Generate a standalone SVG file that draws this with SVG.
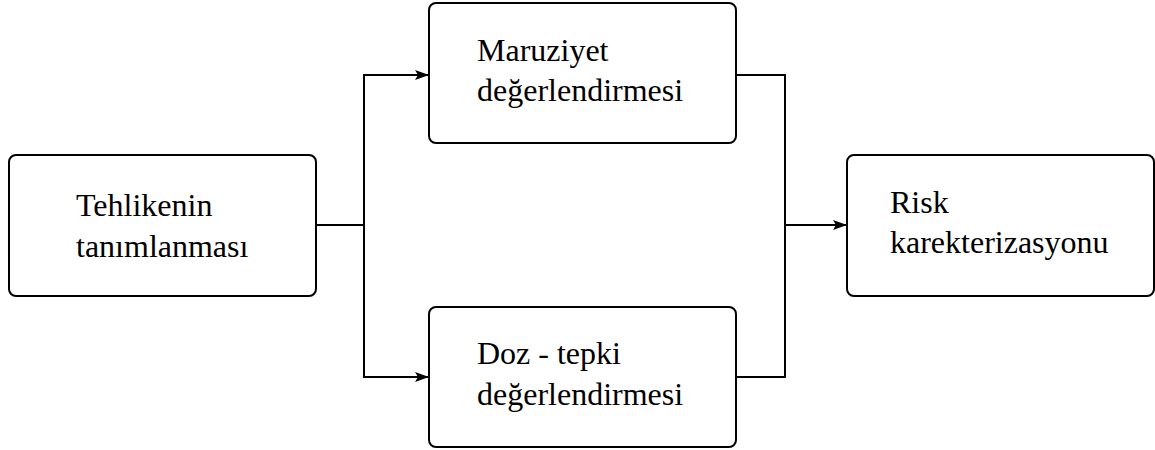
<svg xmlns="http://www.w3.org/2000/svg" width="1155" height="450" viewBox="0 0 1155 450">
<style>
.box{fill:#fff;stroke:#000;stroke-width:2}
.t{font-family:"Liberation Serif","Times New Roman",serif;font-size:32px;fill:#000}
.c{fill:none;stroke:#000;stroke-width:2}
</style>
<defs>
<marker id="ah" markerWidth="14" markerHeight="10" refX="13" refY="5" orient="auto" markerUnits="userSpaceOnUse">
<path d="M0,0 L14,5 L0,10 L3,5 Z" fill="#000"/>
</marker>
</defs>
<rect width="1155" height="450" fill="#fff"/>
<g id="connectors">
<path class="c" d="M316,225 H364"/>
<path class="c" d="M364,377 V75 H428" marker-end="url(#ah)"/>
<path class="c" d="M364,225 V377 H428" marker-end="url(#ah)"/>
<path class="c" d="M736,75 H785 V377 H736"/>
<path class="c" d="M785,225 H846" marker-end="url(#ah)"/>
</g>
<g id="node-tehlike">
<rect class="box" x="9" y="155" width="307" height="141" rx="7"/>
<text class="t" x="76" y="216">Tehlikenin</text>
<text class="t" x="76" y="257">tanımlanması</text>
</g>
<g id="node-maruziyet">
<rect class="box" x="429" y="3" width="307" height="140" rx="7"/>
<text class="t" x="477" y="61">Maruziyet</text>
<text class="t" x="477" y="101">değerlendirmesi</text>
</g>
<g id="node-doz">
<rect class="box" x="429" y="307" width="307" height="140" rx="7"/>
<text class="t" x="477" y="364">Doz - tepki</text>
<text class="t" x="477" y="405">değerlendirmesi</text>
</g>
<g id="node-risk">
<rect class="box" x="847" y="155" width="307" height="141" rx="7"/>
<text class="t" x="890" y="213">Risk</text>
<text class="t" x="890" y="253">karekterizasyonu</text>
</g>
</svg>
